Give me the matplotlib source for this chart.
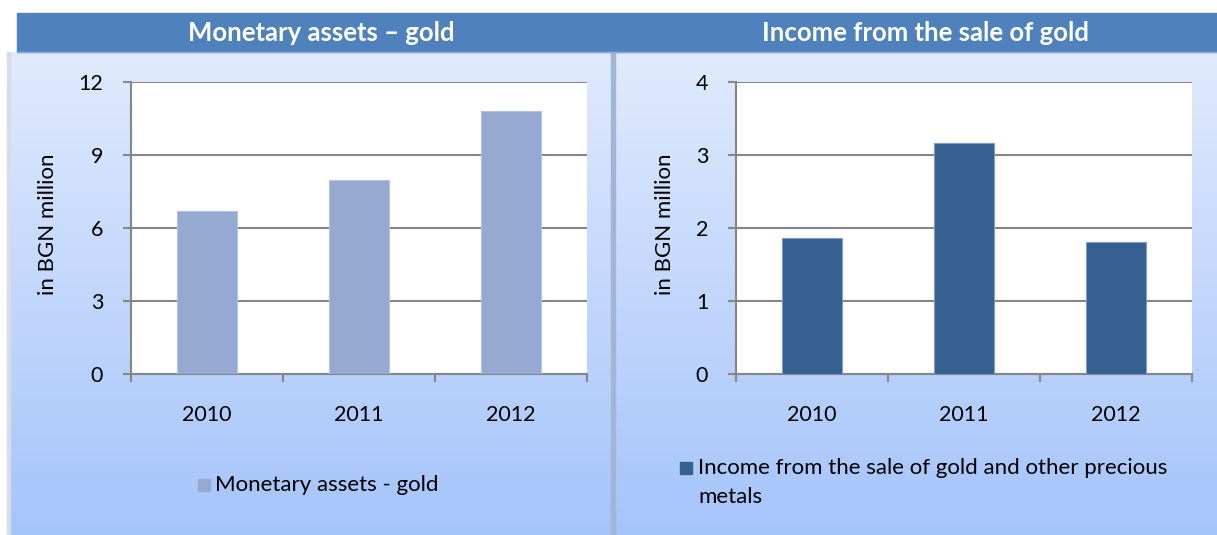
import numpy as np
import matplotlib
matplotlib.use("Agg")
import matplotlib.pyplot as plt
from matplotlib.patches import Rectangle

plt.rcParams['font.family'] = ['Lato', 'DejaVu Sans']

# Data ----
years = ['2010', '2011', '2012']
gold_assets = [6.7, 7.97, 10.81]
gold_income = [1.86, 3.16, 1.81]

titles = ['Monetary assets \u2013 gold', 'Income from the sale of gold']
ylabel = 'in BGN million'
legend_left = 'Monetary assets - gold'
legend_right = ['Income from the sale of gold and other precious', 'metals']

# Colours ----
bar_light = '#95a9d1'
bar_dark = '#366092'
title_blue = '#4f81bd'
grid_grey = '#868686'

W, H = 1217, 535
fig = plt.figure(figsize=(W / 100, H / 100), dpi=100)
fig.patch.set_facecolor('white')

# Background in pixel coordinates ----
bg = fig.add_axes([0, 0, 1, 1])
bg.set_xlim(0, W)
bg.set_ylim(H, 0)
bg.axis('off')

grad = np.linspace(0, 1, 256).reshape(-1, 1)
top = np.array([0.878, 0.918, 0.992])
bottom = np.array([0.647, 0.769, 0.984])
img = top + (bottom - top) * grad[..., None]
img = img.reshape(256, 1, 3)

# panels
for x0, x1 in [(10, 612), (615, 1217)]:
    bg.imshow(img, extent=(x0, x1, H, 52), aspect='auto', zorder=0)
# shadows / separators
bg.add_patch(Rectangle((7, 52), 3, H - 52, color='#d8dce6', zorder=1))
bg.add_patch(Rectangle((611, 52), 4, H - 52, color='#a3b4d6', zorder=1))
# title bar
bg.add_patch(Rectangle((17, 13), W - 17, 39, color=title_blue, zorder=2))
bg.plot([17, W], [52, 52], color='#8eb0e0', lw=1, zorder=3)

bg.text(321, 33, titles[0], color='white', fontsize=18.5, fontweight='bold',
        ha='center', va='center')
bg.text(926, 33, titles[1], color='white', fontsize=18.5, fontweight='bold',
        ha='center', va='center')


def panel(x_left, values, ymax, step, color, edge):
    ax = fig.add_axes([x_left / W, 1 - 374 / H, 456 / W, 292 / H])
    ax.set_facecolor('white')
    x = np.arange(len(years))
    ax.bar(x, values, width=0.4, color=color, edgecolor=edge, linewidth=0.8,
           zorder=3)
    ax.set_xlim(-0.5, len(years) - 0.5)
    ax.set_ylim(0, ymax)
    ax.set_yticks(np.arange(0, ymax + step / 2, step))
    ax.yaxis.grid(True, color=grid_grey, lw=1.5, zorder=1)
    ax.set_axisbelow(True)
    for s in ['top', 'right']:
        ax.spines[s].set_visible(False)
    for s in ['left', 'bottom']:
        ax.spines[s].set_color(grid_grey)
        ax.spines[s].set_linewidth(1.5)
    ax.set_xticks(x)
    ax.set_xticklabels(years)
    ax.set_xticks(np.arange(-0.5, len(years)), minor=True)
    ax.tick_params(axis='x', which='major', length=0, pad=22, labelsize=15.5)
    ax.tick_params(axis='x', which='minor', length=6, width=1.5,
                   color=grid_grey)
    ax.tick_params(axis='y', length=6, width=1.5, color=grid_grey, pad=14,
                   labelsize=15.5)
    return ax


panel(131, gold_assets, 12, 3, bar_light, '#b4c3e0')
panel(736, gold_income, 4, 1, bar_dark, '#7f9cc8')

# y labels
bg.text(48, 224, ylabel, rotation=90, fontsize=16, ha='center', va='center')
bg.text(665, 224, ylabel, rotation=90, fontsize=16, ha='center', va='center')

# legends
bg.add_patch(Rectangle((198, 479), 12, 12, color=bar_light, zorder=4))
bg.text(215, 485, legend_left, fontsize=16, ha='left', va='center')
bg.add_patch(Rectangle((680, 462), 12, 12, color=bar_dark, zorder=4))
bg.text(698, 468, legend_right[0], fontsize=16, ha='left', va='center')
bg.text(698, 497, legend_right[1], fontsize=16, ha='left', va='center')

fig.savefig('out.png', dpi=100)
